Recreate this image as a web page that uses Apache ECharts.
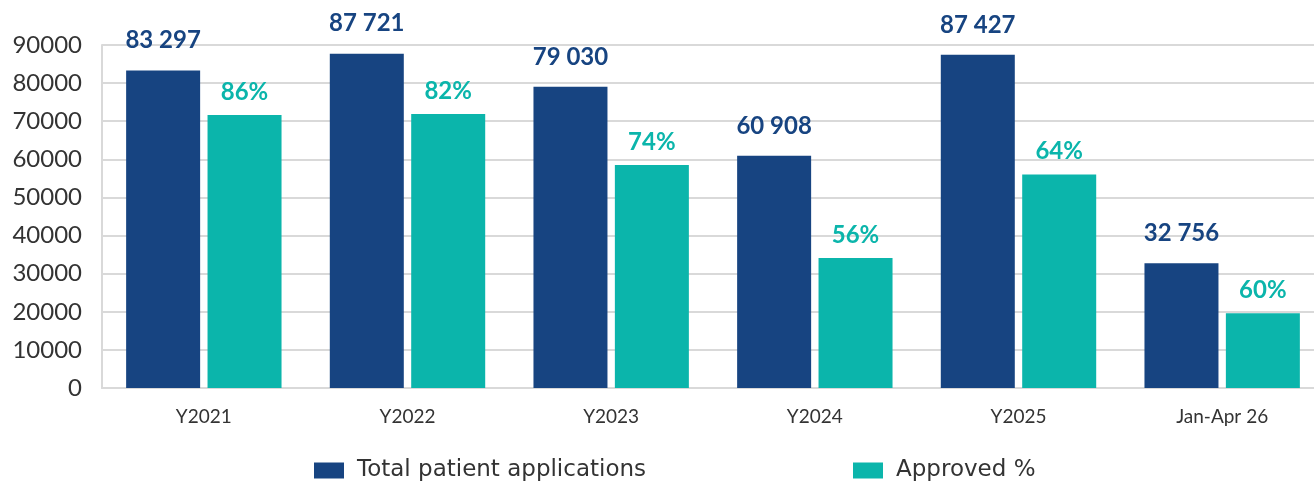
<!DOCTYPE html>
<html>
<head>
<meta charset="utf-8">
<script src="https://cdn.jsdelivr.net/npm/echarts@6/dist/echarts.min.js"></script>
<style>html,body{margin:0;padding:0;background:#fff}#c{width:1314px;height:482px}</style>
</head>
<body>
<div id="c"></div>
<script>
const categories = ['Y2021', 'Y2022', 'Y2023', 'Y2024', 'Y2025', 'Jan-Apr 26'];
const totalApplications = [83297, 87721, 79030, 60908, 87427, 32756];
const approvedCount = [71600, 71900, 58500, 34100, 56000, 19600];
const approvedPctLabels = ['86%', '82%', '74%', '56%', '64%', '60%'];
const yTicks = [0, 10000, 20000, 30000, 40000, 50000, 60000, 70000, 80000, 90000];

const BLUE = '#174481';
const TEAL = '#0bb5ab';
const chart = echarts.init(document.getElementById('c'));
function fmtSpace(v) {
  return String(v).replace(/\B(?=(\d{3})+(?!\d))/g, ' ');
}
const legendText = { fontFamily: 'DejaVu Sans', fontSize: 23, color: '#333', padding: [0, 0, 0, 8] };
chart.setOption({
  animation: false,
  grid: { left: 102, right: -10, top: 45, bottom: 94, containLabel: false, outerBoundsMode: 'none' },
  legend: [
    {
      left: 314, top: 459, itemWidth: 30, itemHeight: 16, icon: 'rect', padding: 0,
      data: ['Total patient applications'],
      textStyle: legendText
    },
    {
      left: 853, top: 459, itemWidth: 30, itemHeight: 16, icon: 'rect', padding: 0,
      data: ['Approved %'],
      textStyle: legendText
    }
  ],
  xAxis: {
    type: 'category',
    data: categories,
    axisTick: { show: false },
    axisLine: { show: true, lineStyle: { color: '#d9d9d9', width: 2 } },
    axisLabel: { fontFamily: 'Lato', fontSize: 19, color: '#333', margin: 19 }
  },
  yAxis: {
    type: 'value',
    min: yTicks[0],
    max: yTicks[yTicks.length - 1],
    interval: yTicks[1] - yTicks[0],
    axisLine: { show: true, lineStyle: { color: '#d9d9d9', width: 2 } },
    axisTick: { show: false },
    splitLine: { lineStyle: { color: '#d9d9d9', width: 2 } },
    axisLabel: { fontFamily: 'Lato', fontSize: 24, color: '#333', margin: 20, formatter: v => String(v) }
  },
  series: [
    {
      name: 'Total patient applications',
      type: 'bar',
      data: totalApplications,
      barWidth: 74,
      barGap: '10%',
      itemStyle: { color: BLUE },
      label: {
        show: true, position: 'top', distance: 18,
        fontFamily: 'Lato', fontWeight: 'bold', fontSize: 24, color: BLUE,
        formatter: p => fmtSpace(p.value)
      }
    },
    {
      name: 'Approved %',
      type: 'bar',
      data: approvedCount,
      barWidth: 74,
      itemStyle: { color: TEAL },
      label: {
        show: true, position: 'top', distance: 11,
        fontFamily: 'Lato', fontWeight: 'bold', fontSize: 24, color: TEAL,
        formatter: p => approvedPctLabels[p.dataIndex]
      }
    }
  ]
});
</script>
</body>
</html>
